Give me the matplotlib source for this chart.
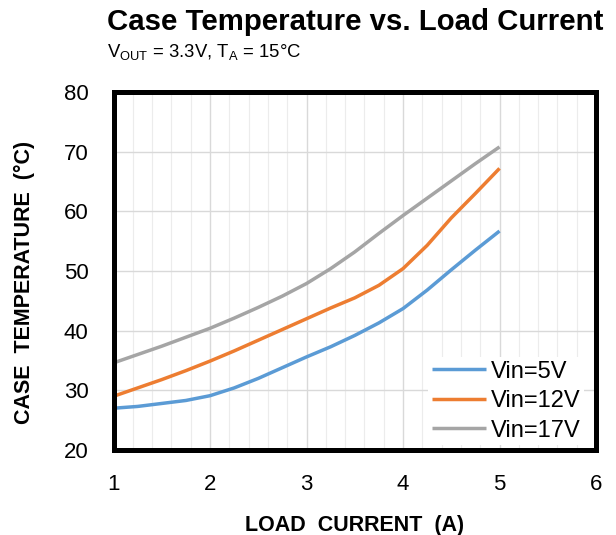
import matplotlib
matplotlib.use("Agg")
import matplotlib.pyplot as plt
from matplotlib.ticker import MultipleLocator

plt.rcParams['font.family'] = ['Liberation Sans', 'DejaVu Sans']
plt.rcParams['mathtext.fontset'] = 'custom'
plt.rcParams['mathtext.rm'] = 'Liberation Sans'

current = [1.0, 1.25, 1.5, 1.75, 2.0, 2.25, 2.5, 2.75, 3.0,
           3.25, 3.5, 3.75, 4.0, 4.25, 4.5, 4.75, 5.0]
vin5 = [27.0, 27.3, 27.8, 28.3, 29.1, 30.4, 32.0, 33.8, 35.6,
        37.3, 39.2, 41.3, 43.7, 46.8, 50.2, 53.5, 56.7]
vin12 = [29.0, 30.4, 31.8, 33.3, 34.9, 36.6, 38.4, 40.2, 42.0,
         43.8, 45.5, 47.6, 50.4, 54.3, 58.9, 63.0, 67.2]
vin17 = [34.6, 36.0, 37.4, 38.9, 40.4, 42.1, 43.9, 45.8, 47.9,
         50.4, 53.2, 56.3, 59.3, 62.2, 65.1, 68.0, 70.8]
labels = ["Vin=5V", "Vin=12V", "Vin=17V"]
colors = ["#5B9BD5", "#ED7D31", "#A5A5A5"]

fig = plt.figure(figsize=(6.16, 5.35), dpi=100)
ax = fig.add_axes([0.1843, 0.1589, 0.7833, 0.6691])

for y, lab, c in zip([vin5, vin12, vin17], labels, colors):
    ax.plot(current, y, color=c, lw=2.5, label=lab, solid_capstyle='butt',
            solid_joinstyle='round')

ax.set_xlim(1, 6)
ax.set_ylim(20, 80)
ax.xaxis.set_major_locator(MultipleLocator(1))
ax.xaxis.set_minor_locator(MultipleLocator(0.2))
ax.yaxis.set_major_locator(MultipleLocator(10))
ax.grid(which='major', color='#d9d9d9', lw=1.0)
ax.grid(which='minor', axis='x', color='#ececec', lw=0.8)
ax.set_axisbelow(True)
for s in ax.spines.values():
    s.set_linewidth(3.6)
    s.set_color('black')
ax.tick_params(which='both', length=0, labelsize=16)
ax.tick_params(axis='x', pad=17)
ax.tick_params(axis='y', pad=18)

ax.set_xlabel("LOAD  CURRENT  (A)", fontsize=15.5, fontweight='bold', labelpad=15)
fig.text(0.040, 0.473, "CASE  TEMPERATURE  (°C)", fontsize=15.5,
         fontweight='bold', rotation=90, ha='center', va='center')

leg = ax.legend(loc='lower right', bbox_to_anchor=(0.985, 0.0), fontsize=17,
                frameon=True, fancybox=False, edgecolor='none', framealpha=1,
                handlelength=2.3, handletextpad=0.2, labelspacing=0.32,
                borderaxespad=0.2, borderpad=0.15)

fig.text(0.173, 0.958, "Case Temperature vs. Load Current", fontsize=21.2,
         fontweight='bold', ha='left', va='center')
fig.text(0.173, 0.903, r"V$_{\mathrm{OUT}}$ = 3.3V, T$_{\mathrm{A}}$ = 15°C",
         fontsize=13.3, ha='left', va='center')

fig.savefig("out.png", dpi=100)
